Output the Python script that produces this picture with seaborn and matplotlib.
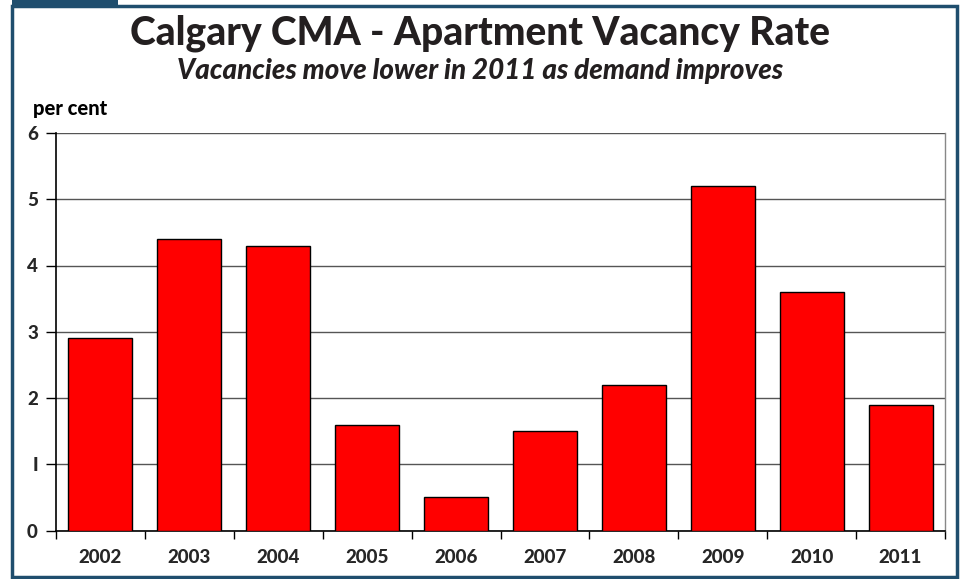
import matplotlib
matplotlib.use("Agg")
import matplotlib.pyplot as plt
import seaborn as sns
import pandas as pd
from matplotlib.patches import Rectangle

years = ["2002", "2003", "2004", "2005", "2006", "2007", "2008", "2009", "2010", "2011"]
vacancy = [2.9, 4.4, 4.3, 1.6, 0.5, 1.5, 2.2, 5.2, 3.6, 1.9]
y_ticks = [0, 1, 2, 3, 4, 5, 6]
y_labels = ["0", "I", "2", "3", "4", "5", "6"]

sns.set_style("white")
plt.rcParams["font.family"] = ["Lato", "DejaVu Sans"]

df = pd.DataFrame({"year": years, "rate": vacancy})

fig = plt.figure(figsize=(9.61, 5.79), dpi=100)
ax = fig.add_axes([56 / 961, 1 - 530.5 / 579, (945 - 56) / 961, (530.5 - 133) / 579])

sns.barplot(data=df, x="year", y="rate", color="#FF0000", saturation=1,
            width=0.72, edgecolor="black", linewidth=1, ax=ax, zorder=3)

ax.set_ylim(0, 6)
ax.set_xlim(-0.5, len(years) - 0.5)
ax.set_yticks(y_ticks)
ax.set_yticklabels(y_labels, fontweight="black", fontsize=13.5)
ax.set_xticks(range(len(years)))
ax.set_xticklabels(years, fontweight="black", fontsize=13.5)
ax.tick_params(axis="x", which="major", bottom=False, length=0, pad=13)
ax.set_xticks([i - 0.5 for i in range(len(years) + 1)], minor=True)
ax.tick_params(axis="x", which="minor", bottom=True, length=6, width=1,
               color="black", direction="out")
ax.tick_params(axis="y", left=True, length=7, width=1, color="black",
               direction="out", pad=6)
ax.set_xlabel("")
ax.set_ylabel("")
ax.grid(axis="y", color="#555555", linewidth=1, zorder=0)
ax.set_axisbelow(True)
for side in ["left", "bottom"]:
    ax.spines[side].set_color("black")
    ax.spines[side].set_linewidth(1.2)
    ax.spines[side].set_visible(True)
ax.spines["right"].set_color("#888888")
ax.spines["right"].set_linewidth(1)
ax.spines["top"].set_visible(False)

fig.text(0.5, 1 - 33 / 579, "Calgary CMA - Apartment Vacancy Rate", ha="center", va="center",
         fontsize=28, fontweight="black", color="#231F20")
fig.text(0.5, 1 - 71 / 579, "Vacancies move lower in 2011 as demand improves", ha="center",
         va="center", fontsize=20, fontweight="black", fontstyle="italic", color="#231F20")
fig.text(33 / 961, 1 - 108 / 579, "per cent", ha="left", va="center",
         fontsize=14.5, fontweight="black", color="black")

# frame and tab
fig.patches.append(Rectangle((12 / 961, 2 / 579), (957 - 12) / 961, (575 - 4) / 579,
                             transform=fig.transFigure, fill=False,
                             edgecolor="#1F4E6E", linewidth=2.5))
fig.patches.append(Rectangle((12 / 961, 1 - 5 / 579), (118 - 12) / 961, 5 / 579,
                             transform=fig.transFigure, facecolor="#1F4E6E",
                             edgecolor="none"))

fig.savefig("out.png", dpi=100)
